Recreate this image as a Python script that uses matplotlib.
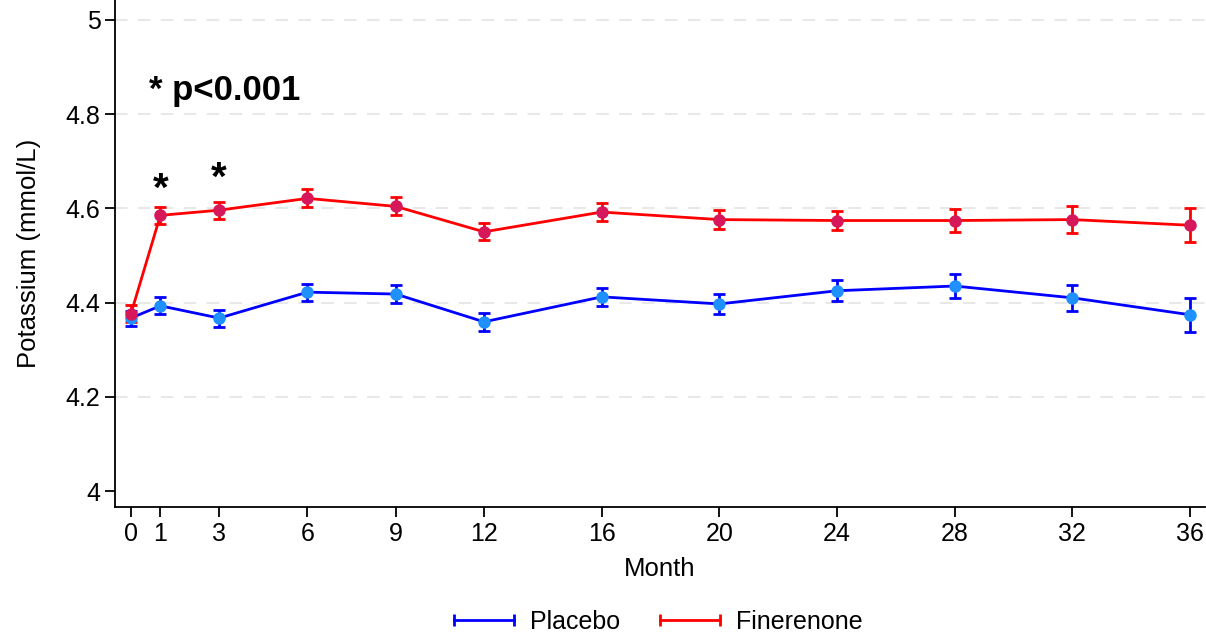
import numpy as np
import matplotlib.pyplot as plt
from matplotlib.lines import Line2D

plt.rcParams['font.family'] = ['Liberation Sans', 'DejaVu Sans']

months = [0, 1, 3, 6, 9, 12, 16, 20, 24, 28, 32, 36]
placebo = [4.367, 4.393, 4.367, 4.422, 4.418, 4.359, 4.412, 4.397, 4.425, 4.435, 4.410, 4.374]
placebo_err = [0.016, 0.018, 0.018, 0.018, 0.019, 0.019, 0.019, 0.021, 0.022, 0.025, 0.027, 0.036]
finer = [4.376, 4.585, 4.596, 4.621, 4.604, 4.550, 4.592, 4.576, 4.574, 4.574, 4.576, 4.564]
finer_err = [0.018, 0.018, 0.018, 0.019, 0.019, 0.018, 0.019, 0.021, 0.021, 0.024, 0.028, 0.036]
star_months = [1, 3]
star_y = [4.640, 4.662]

fig = plt.figure(figsize=(12.06, 6.33), dpi=100)
ax = fig.add_axes([0.0954, 0.199, 0.9036, 0.801])

ax.errorbar(months, placebo, yerr=placebo_err, color='#0000ff', ecolor='#0000ff',
            lw=2, elinewidth=2, capsize=4, capthick=2, marker='o', ms=8,
            mfc='#1e90ff', mec='#1e90ff', zorder=3)
ax.errorbar(months, finer, yerr=finer_err, color='#ff0000', ecolor='#ff0000',
            lw=2, elinewidth=2, capsize=4, capthick=2, marker='o', ms=8,
            mfc='#d6185a', mec='#d6185a', zorder=3)

for m, y in zip(star_months, star_y):
    ax.text(m, y, '*', fontsize=29, fontweight='bold', ha='center', va='center')
ax.text(0.6, 4.85, '* p<0.001', fontsize=25, fontweight='bold', ha='left', va='center')

ax.set_xlim(-0.54, 36.5)
ax.set_ylim(3.966, 5.042)
ax.set_xticks(months)
ax.set_yticks([4, 4.2, 4.4, 4.6, 4.8, 5])
ax.set_yticklabels(['4', '4.2', '4.4', '4.6', '4.8', '5'])
ax.tick_params(labelsize=18, length=7, width=1.3, pad=3.5)
for y in [4.2, 4.4, 4.6, 4.8, 5]:
    ax.axhline(y, color='#e8e8e8', lw=1.5, ls=(0, (6, 5)), zorder=0)
ax.spines['top'].set_visible(False)
ax.spines['right'].set_visible(False)
ax.spines['left'].set_linewidth(1.3)
ax.spines['bottom'].set_linewidth(1.3)
ax.set_xlabel('Month', fontsize=18.5, labelpad=8)
ax.set_ylabel('Potassium (mmol/L)', fontsize=18.5, labelpad=18)

handles = [Line2D([], [], color='#0000ff', lw=2, marker='|', ms=9, mew=2),
           Line2D([], [], color='#ff0000', lw=2, marker='|', ms=9, mew=2)]
fig.legend(handles, ['Placebo', 'Finerenone'], loc='lower center', bbox_to_anchor=(0.543, -0.037),
           ncol=2, frameon=False, fontsize=18, numpoints=2, handlelength=3.0,
           columnspacing=1.3, handletextpad=0.34)

fig.savefig('out.png', dpi=100)
